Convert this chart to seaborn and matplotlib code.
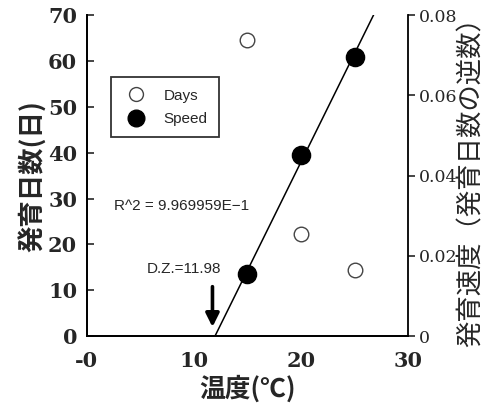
import numpy as np
import pandas as pd
import seaborn as sns
import matplotlib.pyplot as plt
from matplotlib.lines import Line2D

sns.set_style("white")
plt.rcParams['font.family'] = ['Noto Sans CJK JP', 'DejaVu Sans']

temps = [15, 20, 25]
days = [64.5, 22.3, 14.4]
speed = [0.0155, 0.0452, 0.0695]
x_ticks = [0, 10, 20, 30]
x_ticklabels = ["-0", "10", "20", "30"]
days_ticks = [0, 10, 20, 30, 40, 50, 60, 70]
speed_ticks = [0, 0.02, 0.04, 0.06, 0.08]
speed_ticklabels = ["0", "0.02", "0.04", "0.06", "0.08"]
dz = 11.98

df = pd.DataFrame({"temp": temps, "days": days, "speed": speed})

fig = plt.figure(figsize=(4.91, 4.07), dpi=100)
ax = fig.add_axes([0.177, 0.174, 0.654, 0.789])
ax2 = ax.twinx()

sns.scatterplot(data=df, x="temp", y="days", ax=ax, s=110, facecolor="white",
                edgecolor="#444444", linewidth=1.0, zorder=3)
sns.scatterplot(data=df, x="temp", y="speed", ax=ax2, s=170, color="black",
                edgecolor="black", zorder=3)

# regression line for speed
a, b = np.polyfit(df["temp"], df["speed"], 1)
x0 = -b / a
xs = np.array([x0, 30])
ax2.plot(xs, a * xs + b, color="black", lw=1.1, zorder=2)

ax.set_xlim(0, 30)
ax.set_ylim(0, 70)
ax2.set_ylim(0, 0.08)
ax.set_xticks(x_ticks)
ax.set_xticklabels(x_ticklabels)
ax.set_yticks(days_ticks)
ax2.set_yticks(speed_ticks)
ax2.set_yticklabels(speed_ticklabels)

serif_bold = dict(family="DejaVu Serif", weight="bold", size=15)
for lab in ax.get_xticklabels() + ax.get_yticklabels():
    lab.set_fontproperties(serif_bold)
for lab in ax2.get_yticklabels():
    lab.set_family("DejaVu Serif")
    lab.set_size(12.5)

ax.tick_params(axis="x", direction="in", length=5, width=1.2, pad=11)
ax.tick_params(axis="y", direction="in", length=5, width=1.2, pad=7)
ax2.tick_params(axis="y", direction="out", length=5, width=1.2, pad=3)

for a_ in (ax, ax2):
    a_.spines["top"].set_visible(False)
    for s in ("left", "right", "bottom"):
        a_.spines[s].set_linewidth(1.3)
        a_.spines[s].set_color("black")
ax.spines["right"].set_visible(False)

ax.set_xlabel("温度(℃)", fontsize=18.5, weight="bold", labelpad=3)
ax.set_ylabel("発育日数(日)", fontsize=19, weight="bold", labelpad=1)
ax2.set_ylabel("発育速度（発育日数の逆数）", fontsize=19, labelpad=0)
ax2.set_xlabel("")

ax.text(2.5, 28.3, "R^2 = 9.969959E−1", fontsize=11, family="Liberation Sans",
        va="center")
ax.text(5.6, 14.6, "D.Z.=11.98", fontsize=11, family="Liberation Sans",
        va="center")
ax.annotate("", xy=(dz - 0.25, 1.4), xytext=(dz - 0.25, 11.4),
            arrowprops=dict(arrowstyle="-|>", color="black", lw=2.6,
                            mutation_scale=20))

handles = [
    Line2D([], [], marker="o", ls="", markersize=10, markerfacecolor="white",
           markeredgecolor="#444444", markeredgewidth=1.0, label="Days"),
    Line2D([], [], marker="o", ls="", markersize=12, markerfacecolor="black",
           markeredgecolor="black", label="Speed"),
]
leg = ax.legend(handles=handles, loc="upper left", bbox_to_anchor=(0.075, 0.806),
                borderaxespad=0, frameon=True, fancybox=False, edgecolor="black",
                prop=dict(family="Liberation Sans", size=11), handletextpad=0.9,
                borderpad=0.75, labelspacing=0.6, handlelength=1.8)
leg.get_frame().set_linewidth(1.3)

fig.savefig("out.png", dpi=100)
